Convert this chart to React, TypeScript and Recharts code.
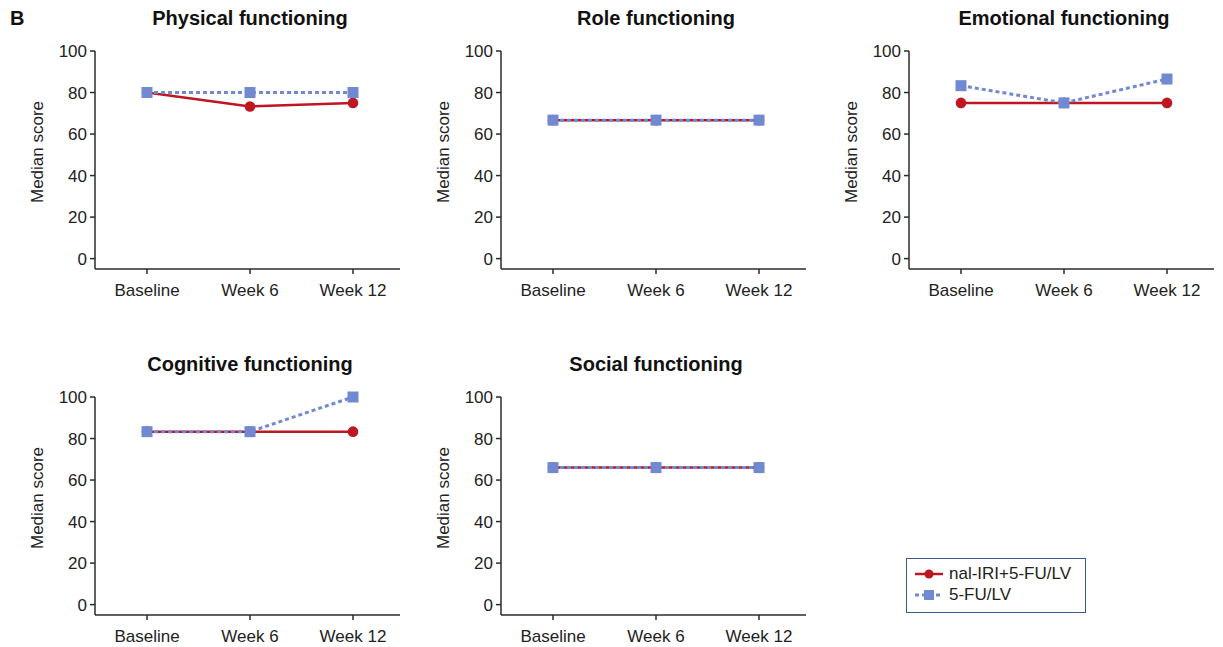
import React from "react";
import { LineChart, Line, XAxis, YAxis } from "recharts";

const timepoints = ["Baseline", "Week 6", "Week 12"];
const yTicks = [0, 20, 40, 60, 80, 100];

// medians
const physicalNal = [80, 73.3, 75];
const physicalFu = [80, 80, 80];
const roleNal = [66.7, 66.7, 66.7];
const roleFu = [66.7, 66.7, 66.7];
const emotionalNal = [75, 75, 75];
const emotionalFu = [83.3, 75, 86.5];
const cognitiveNal = [83.3, 83.3, 83.3];
const cognitiveFu = [83.3, 83.3, 100];
const socialNal = [66, 66, 66];
const socialFu = [66, 66, 66];

const RED = "#be1622";
const BLUE = "#7189d0";
const AXIS = "#2b2b2b";
const FONT = "'Liberation Sans', Arial, sans-serif";

function SquareDot(props: any) {
  const { cx, cy } = props;
  if (cx == null || cy == null) return null;
  return <rect x={cx - 5.5} y={cy - 5.5} width={11} height={11} fill={BLUE} />;
}

function YLabel({ viewBox }: any) {
  const cx = viewBox.x + 37;
  const cy = viewBox.y + viewBox.height / 2 - 8;
  return (
    <text
      x={cx}
      y={cy}
      transform={`rotate(-90, ${cx}, ${cy})`}
      textAnchor="middle"
      dominantBaseline="central"
      fontSize={17}
      fill="#222"
    >
      Median score
    </text>
  );
}

function Panel({
  title,
  nal,
  fu,
  left,
  top,
}: {
  title: string;
  nal: number[];
  fu: number[];
  left: number;
  top: number;
}) {
  const rows = timepoints.map((t, i) => ({ t, nal: nal[i], fu: fu[i] }));
  return (
    <div style={{ position: "absolute", left, top, width: 410, height: 310 }}>
      <div
        style={{
          position: "absolute",
          left: 250,
          top: 7,
          transform: "translateX(-50%)",
          whiteSpace: "nowrap",
          fontFamily: FONT,
          fontWeight: "bold",
          fontSize: 20,
          color: "#111",
        }}
      >
        {title}
      </div>
      <LineChart
        width={410}
        height={309}
        data={rows}
        margin={{ top: 51, right: 10, left: 0, bottom: 0 }}
        style={{ fontFamily: FONT }}
      >
        <XAxis
          dataKey="t"
          padding={{ left: 52, right: 47 }}
          height={40}
          tickSize={5}
          tickMargin={10}
          stroke={AXIS}
          strokeWidth={1.5}
          tick={{ fontSize: 17, fill: "#222" }}
          tickLine={{ stroke: AXIS, strokeWidth: 1.5 }}
          interval={0}
        />
        <YAxis
          domain={[-5, 100]}
          ticks={yTicks}
          width={95}
          tickSize={5}
          tickMargin={3}
          stroke={AXIS}
          strokeWidth={1.5}
          tick={{ fontSize: 17, fill: "#222" }}
          tickLine={{ stroke: AXIS, strokeWidth: 1.5 }}
          label={{ content: <YLabel /> }}
        />
        <Line
          dataKey="nal"
          stroke={RED}
          strokeWidth={2.5}
          dot={{ r: 5.3, fill: RED, stroke: "none" }}
          isAnimationActive={false}
        />
        <Line
          dataKey="fu"
          stroke={BLUE}
          strokeWidth={3}
          strokeDasharray="4 3"
          dot={<SquareDot />}
          isAnimationActive={false}
        />
      </LineChart>
    </div>
  );
}

function LegendBox() {
  const row = { display: "flex", alignItems: "center", height: 21 } as const;
  return (
    <div
      style={{
        position: "absolute",
        left: 906,
        top: 558,
        width: 178,
        height: 49,
        border: "1.5px solid #3a5a8c",
        fontFamily: FONT,
        fontSize: 17,
        color: "#222",
        paddingTop: 4,
        boxSizing: "content-box",
      }}
    >
      <div style={row}>
        <svg width={36} height={14} style={{ marginLeft: 6 }}>
          <line x1={2} y1={7} x2={30} y2={7} stroke={RED} strokeWidth={2.5} />
          <circle cx={16} cy={7} r={4.5} fill={RED} />
        </svg>
        <span>nal-IRI+5-FU/LV</span>
      </div>
      <div style={row}>
        <svg width={36} height={14} style={{ marginLeft: 6 }}>
          <line x1={2} y1={7} x2={30} y2={7} stroke={BLUE} strokeWidth={3} strokeDasharray="4 3" />
          <rect x={11} y={2} width={10} height={10} fill={BLUE} />
        </svg>
        <span>5-FU/LV</span>
      </div>
    </div>
  );
}

export default function App() {
  return (
    <div
      style={{
        position: "absolute",
        left: 0,
        top: 0,
        width: 1223,
        height: 647,
        background: "#fff",
        overflow: "hidden",
      }}
    >
      <div
        style={{
          position: "absolute",
          left: 10,
          top: 7,
          fontFamily: FONT,
          fontWeight: "bold",
          fontSize: 20,
          color: "#111",
        }}
      >
        B
      </div>
      <Panel title="Physical functioning" nal={physicalNal} fu={physicalFu} left={0} top={0} />
      <Panel title="Role functioning" nal={roleNal} fu={roleFu} left={406} top={0} />
      <Panel title="Emotional functioning" nal={emotionalNal} fu={emotionalFu} left={814} top={0} />
      <Panel title="Cognitive functioning" nal={cognitiveNal} fu={cognitiveFu} left={0} top={346} />
      <Panel title="Social functioning" nal={socialNal} fu={socialFu} left={406} top={346} />
      <LegendBox />
    </div>
  );
}
